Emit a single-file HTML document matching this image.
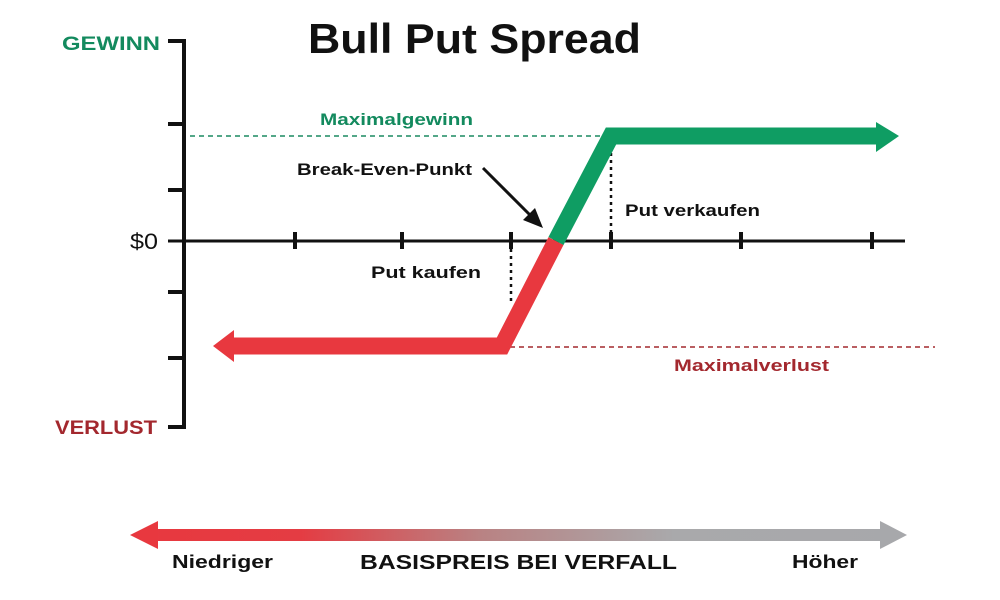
<!DOCTYPE html>
<html><head><meta charset="utf-8"><style>
body{margin:0;background:#fff;}
svg{display:block;font-family:"Liberation Sans",sans-serif;}
</style></head><body>
<svg width="1000" height="600" viewBox="0 0 1000 600" xmlns="http://www.w3.org/2000/svg">
<defs>
<linearGradient id="g" x1="130" y1="0" x2="907" y2="0" gradientUnits="userSpaceOnUse">
<stop offset="0" stop-color="#e8383f"/>
<stop offset="0.22" stop-color="#e43c43"/>
<stop offset="0.45" stop-color="#b98283"/>
<stop offset="0.7" stop-color="#a9a9ab"/>
<stop offset="1" stop-color="#a7a8ab"/>
</linearGradient>
</defs>
<text x="308" y="53" font-size="42" font-weight="bold" fill="#111" textLength="333" lengthAdjust="spacingAndGlyphs">Bull Put Spread</text>
<g stroke="#111" stroke-width="4" fill="none">
<polyline points="168,41 184,41 184,427 168,427"/>
<line x1="168" y1="124" x2="184" y2="124"/>
<line x1="168" y1="190" x2="184" y2="190"/>
<line x1="168" y1="292" x2="184" y2="292"/>
<line x1="168" y1="358" x2="184" y2="358"/>
<line x1="168" y1="241" x2="905" y2="241" stroke-width="3"/>
<line x1="295" y1="232" x2="295" y2="249"/>
<line x1="402" y1="232" x2="402" y2="249"/>
<line x1="511" y1="232" x2="511" y2="249"/>
<line x1="611" y1="232" x2="611" y2="249"/>
<line x1="741" y1="232" x2="741" y2="249"/>
<line x1="872" y1="232" x2="872" y2="249"/>
</g>
<text x="62" y="50" font-size="19" font-weight="bold" fill="#138a5e" textLength="98" lengthAdjust="spacingAndGlyphs">GEWINN</text>
<text x="130" y="249" font-size="22" fill="#111" textLength="28" lengthAdjust="spacingAndGlyphs">$0</text>
<text x="55" y="434" font-size="19" font-weight="bold" fill="#a3282e" textLength="102" lengthAdjust="spacingAndGlyphs">VERLUST</text>
<line x1="190" y1="136" x2="606" y2="136" stroke="#1a8a60" stroke-width="1.5" stroke-dasharray="5,4"/>
<line x1="510" y1="347" x2="935" y2="347" stroke="#a3282e" stroke-width="1.5" stroke-dasharray="5,4"/>
<line x1="511" y1="249" x2="511" y2="302" stroke="#111" stroke-width="2.5" stroke-dasharray="3,4"/>
<line x1="611" y1="146" x2="611" y2="238" stroke="#111" stroke-width="2.5" stroke-dasharray="3,4"/>
<polyline points="556,241 502,346 232,346" fill="none" stroke="#e8383f" stroke-width="17" stroke-linejoin="miter"/>
<polygon points="234,330 213,346 234,362" fill="#e8383f"/>
<polyline points="556,241 611,136 878,136" fill="none" stroke="#0f9d63" stroke-width="17" stroke-linejoin="miter"/>
<polygon points="876,122 899,136 876,152" fill="#0f9d63"/>
<line x1="483" y1="168" x2="532" y2="217" stroke="#111" stroke-width="3"/>
<polygon points="543,228 523,220 535,208" fill="#111"/>
<g font-size="17" font-weight="bold">
<text x="320" y="125" fill="#138a5e" textLength="153" lengthAdjust="spacingAndGlyphs">Maximalgewinn</text>
<text x="297" y="175" fill="#111" textLength="175" lengthAdjust="spacingAndGlyphs">Break-Even-Punkt</text>
<text x="625" y="216" fill="#111" textLength="135" lengthAdjust="spacingAndGlyphs">Put verkaufen</text>
<text x="371" y="278" fill="#111" textLength="110" lengthAdjust="spacingAndGlyphs">Put kaufen</text>
<text x="674" y="371" fill="#a3282e" textLength="155" lengthAdjust="spacingAndGlyphs">Maximalverlust</text>
</g>
<rect x="155" y="529" width="728" height="12" fill="url(#g)"/>
<polygon points="158,521 130,535 158,549" fill="#e8383f"/>
<polygon points="880,521 907,535 880,549" fill="#a7a8ab"/>
<text x="172" y="568" font-size="18" font-weight="bold" fill="#111" textLength="101" lengthAdjust="spacingAndGlyphs">Niedriger</text>
<text x="360" y="569" font-size="20" font-weight="bold" fill="#111" textLength="317" lengthAdjust="spacingAndGlyphs">BASISPREIS BEI VERFALL</text>
<text x="792" y="568" font-size="18" font-weight="bold" fill="#111" textLength="66" lengthAdjust="spacingAndGlyphs">Höher</text>
</svg>
</body></html>
